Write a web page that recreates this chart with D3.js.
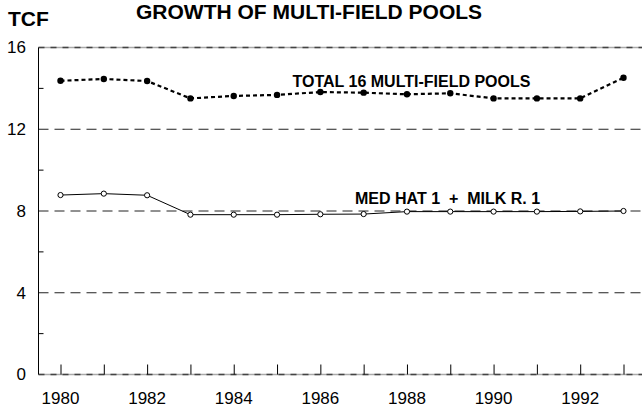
<!DOCTYPE html>
<html>
<head>
<meta charset="utf-8">
<script src="https://cdn.jsdelivr.net/npm/d3@7/dist/d3.min.js"></script>
<style>
  html, body { margin: 0; padding: 0; background: #fff; }
  svg { display: block; font-family: "Liberation Sans", Arial, sans-serif; }
</style>
</head>
<body>
<svg id="chart" width="642" height="408"></svg>
<script>
const years = [1980, 1981, 1982, 1983, 1984, 1985, 1986, 1987, 1988, 1989, 1990, 1991, 1992, 1993];
const totalPools = [14.37, 14.46, 14.36, 13.51, 13.63, 13.68, 13.82, 13.79, 13.71, 13.76, 13.51, 13.51, 13.51, 14.52];
const medHatMilk = [8.78, 8.85, 8.77, 7.82, 7.82, 7.82, 7.84, 7.85, 7.97, 7.97, 7.97, 7.97, 7.98, 8.0];
const yTicks = [0, 4, 8, 12, 16];
const yMinorTicks = [2, 6, 10, 14];
const xLabelYears = [1980, 1982, 1984, 1986, 1988, 1990, 1992];

const svg = d3.select("#chart");
const x = d3.scaleLinear().domain([1980, 1993]).range([60.5, 623.5]);
const y = d3.scaleLinear().domain([0, 16]).range([374.5, 47.5]);
const left = 38.5, right = 642;

// gridlines
yTicks.forEach(v => {
  const yy = y(v);
  if (v === 0 || v === 16) {
    svg.append("line").attr("x1", left).attr("x2", right).attr("y1", yy).attr("y2", yy)
      .attr("stroke", "#aaa").attr("stroke-width", 1.5);
    svg.append("line").attr("x1", left).attr("x2", right).attr("y1", yy).attr("y2", yy)
      .attr("stroke", "#444").attr("stroke-width", 1.5).attr("stroke-dasharray", "6,6");
  } else {
    svg.append("line").attr("x1", left).attr("x2", right).attr("y1", yy).attr("y2", yy)
      .attr("stroke", "#222").attr("stroke-width", 1).attr("stroke-dasharray", "10,6");
  }
});

// left axis
svg.append("line").attr("x1", left).attr("x2", left).attr("y1", y(16)).attr("y2", y(0))
  .attr("stroke", "#000").attr("stroke-width", 1);
yMinorTicks.forEach(v => {
  svg.append("line").attr("x1", left).attr("x2", left + 5).attr("y1", y(v)).attr("y2", y(v))
    .attr("stroke", "#000").attr("stroke-width", 1);
});
const yAxis = d3.axisLeft(y).tickValues(yTicks).tickSize(0).tickPadding(0).tickFormat(d3.format("d"));
const ya = svg.append("g").attr("transform", `translate(26,0)`).call(yAxis);
ya.select(".domain").remove();
ya.selectAll("text").attr("font-size", 17).attr("fill", "#000")
  .attr("font-family", "'Liberation Sans', Arial, sans-serif");

// bottom ticks
const xAxis = d3.axisTop(x).tickValues(years).tickSize(10).tickFormat("");
const xa = svg.append("g").attr("transform", `translate(0,${y(0)})`).call(xAxis);
xa.select(".domain").remove();
xa.selectAll("line").attr("stroke", "#000").attr("stroke-width", 1);

svg.append("g").selectAll("text").data(xLabelYears).join("text")
  .attr("x", d => x(d)).attr("y", 404).attr("text-anchor", "middle")
  .attr("font-size", 17).text(d => d);

// series lines
const line = d3.line().x((d, i) => x(years[i])).y(d => y(d));
svg.append("path").datum(totalPools).attr("d", line).attr("fill", "none")
  .attr("stroke", "#000").attr("stroke-width", 2.2).attr("stroke-dasharray", "4,3");
svg.append("g").selectAll("circle").data(totalPools).join("circle")
  .attr("cx", (d, i) => x(years[i])).attr("cy", d => y(d)).attr("r", 3.2).attr("fill", "#000");

svg.append("path").datum(medHatMilk).attr("d", line).attr("fill", "none")
  .attr("stroke", "#000").attr("stroke-width", 1);
svg.append("g").selectAll("circle").data(medHatMilk).join("circle")
  .attr("cx", (d, i) => x(years[i])).attr("cy", d => y(d)).attr("r", 2.6)
  .attr("fill", "#fff").attr("stroke", "#000").attr("stroke-width", 1);

// labels
svg.append("text").attr("x", 292.5).attr("y", 86.5).attr("font-size", 16).attr("font-weight", "bold")
  .text("TOTAL 16 MULTI-FIELD POOLS");
svg.append("text").attr("x", 355).attr("y", 204.3).attr("font-size", 16).attr("font-weight", "bold")
  .attr("xml:space", "preserve").style("white-space", "pre")
  .text("MED HAT 1  +  MILK R. 1");

// title & unit
svg.append("text").attr("x", 136).attr("y", 19).attr("font-size", 21).attr("font-weight", "bold")
  .text("GROWTH OF MULTI-FIELD POOLS");
svg.append("text").attr("x", 8).attr("y", 26).attr("font-size", 21).attr("font-weight", "bold")
  .text("TCF");
</script>
</body>
</html>
